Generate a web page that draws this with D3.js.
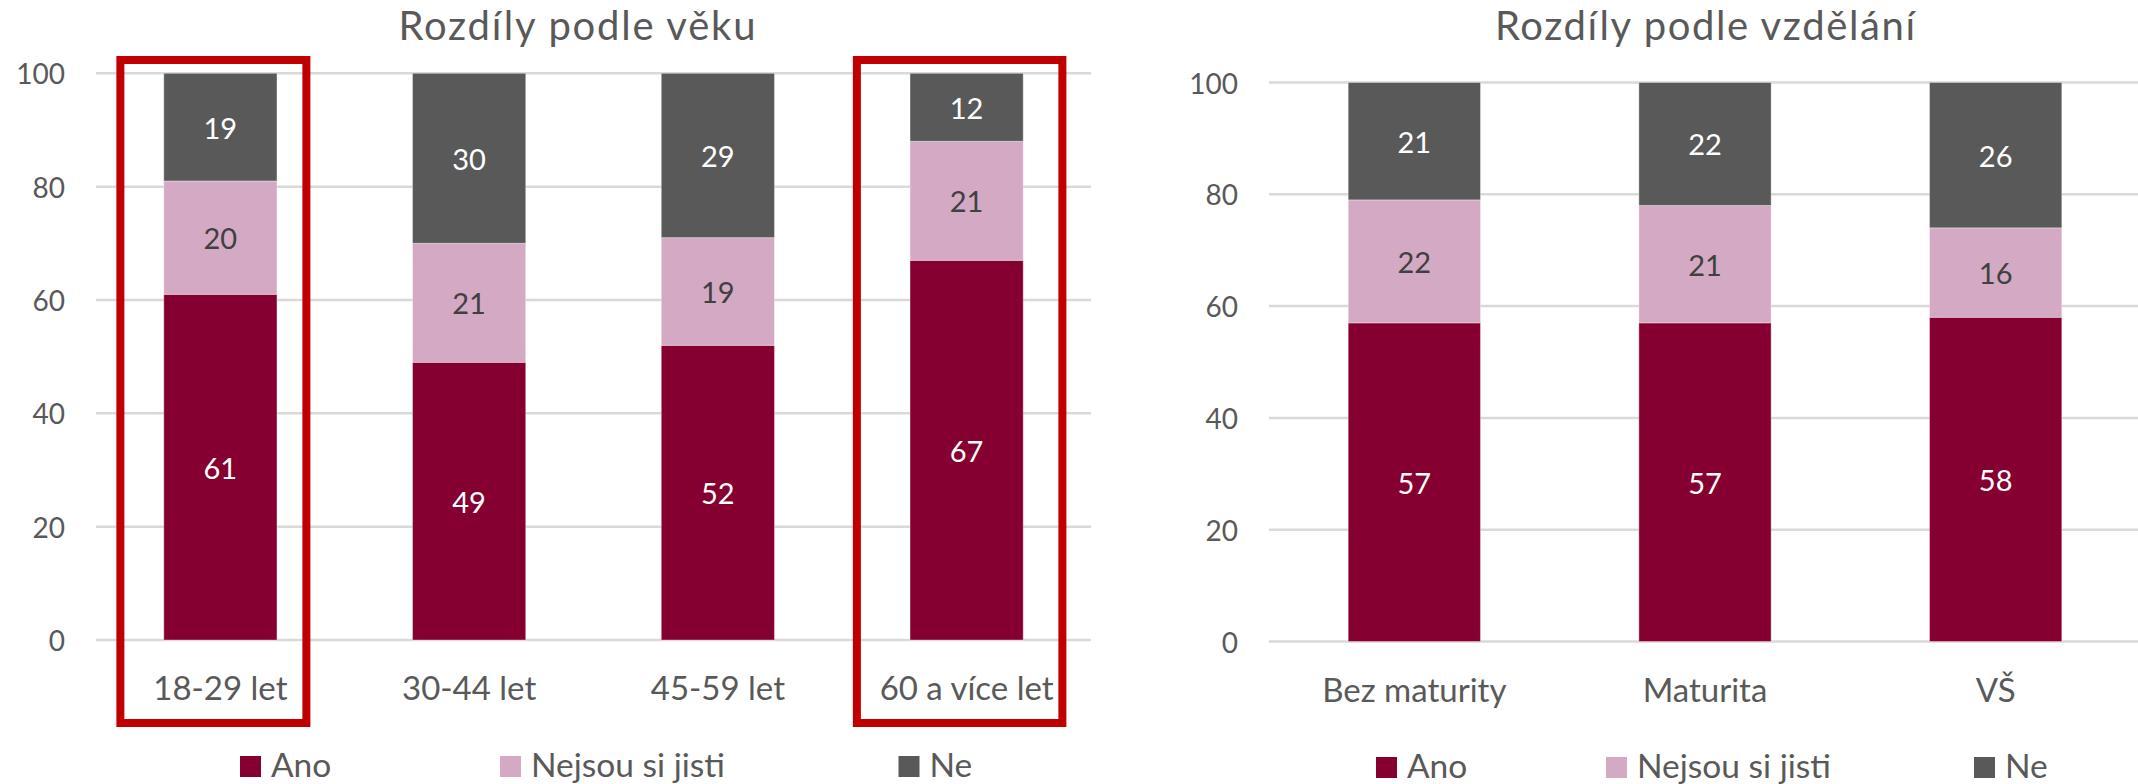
<!DOCTYPE html>
<html>
<head>
<meta charset="utf-8">
<script src="https://cdn.jsdelivr.net/npm/d3@7"></script>
<style>
  html, body { margin: 0; padding: 0; background: #fff; }
  svg { display: block; font-family: Lato, "Open Sans", sans-serif; }
</style>
</head>
<body>
<svg id="chart" width="2138" height="784"></svg>
<script>
// ---------- data ----------
const seriesNames = ["Ano", "Nejsou si jisti", "Ne"];
const seriesColors = ["#850030", "#D4A9C3", "#595959"];
const labelColors = ["#FFFFFF", "#404040", "#FFFFFF"];

const ageTitle = "Rozdíly podle věku";
const ageCategories = ["18-29 let", "30-44 let", "45-59 let", "60 a více let"];
const ageAno = [61, 49, 52, 67];
const ageNejsou = [20, 21, 19, 21];
const ageNe = [19, 30, 29, 12];
const ageHighlighted = ["18-29 let", "60 a více let"];

const eduTitle = "Rozdíly podle vzdělání";
const eduCategories = ["Bez maturity", "Maturita", "VŠ"];
const eduAno = [57, 57, 58];
const eduNejsou = [22, 21, 16];
const eduNe = [21, 22, 26];

const yTicks = [0, 20, 40, 60, 80, 100];

// ---------- drawing ----------
const svg = d3.select("#chart");
const textColor = "#595959";

function drawPanel(cfg) {
  const g = svg.append("g");
  const x = d3.scaleBand().domain(cfg.categories).range([cfg.left, cfg.right]).padding(0);
  const y = d3.scaleLinear().domain([0, 100]).range([cfg.y0, cfg.y100]);
  const bw = x.bandwidth() * cfg.barFrac;

  // gridlines
  g.append("g").selectAll("line").data(yTicks).join("line")
    .attr("x1", cfg.left).attr("x2", cfg.gridRight)
    .attr("y1", d => y(d)).attr("y2", d => y(d))
    .attr("stroke", "#D9D9D9").attr("stroke-width", 2.5);

  // y tick labels
  g.append("g").selectAll("text").data(yTicks).join("text")
    .attr("x", cfg.left - 31).attr("y", d => y(d))
    .attr("text-anchor", "end").attr("dominant-baseline", "central")
    .attr("font-size", 28).attr("fill", textColor)
    .text(d => d);

  // stacked data
  const rows = cfg.categories.map((c, i) => ({ cat: c, Ano: cfg.ano[i], Nejsou: cfg.nejsou[i], Ne: cfg.ne[i] }));
  const keys = ["Ano", "Nejsou", "Ne"];
  const stacked = d3.stack().keys(keys)(rows);

  stacked.forEach((layer, li) => {
    const lg = g.append("g");
    lg.selectAll("rect").data(layer).join("rect")
      .attr("x", d => x(d.data.cat) + (x.bandwidth() - bw) / 2)
      .attr("width", bw)
      .attr("y", d => y(d[1]))
      .attr("height", d => y(d[0]) - y(d[1]))
      .attr("fill", seriesColors[li])
      .attr("stroke", "#ffffff").attr("stroke-opacity", 0.35).attr("stroke-width", 1);
    lg.selectAll("text").data(layer).join("text")
      .attr("x", d => x(d.data.cat) + x.bandwidth() / 2)
      .attr("y", d => (y(d[0]) + y(d[1])) / 2)
      .attr("text-anchor", "middle").attr("dominant-baseline", "central")
      .attr("font-size", 29).attr("fill", labelColors[li])
      .text(d => d[1] - d[0]);
  });

  // category labels
  g.append("g").selectAll("text").data(cfg.categories).join("text")
    .attr("x", d => x(d) + x.bandwidth() / 2)
    .attr("y", cfg.catBaseline)
    .attr("text-anchor", "middle")
    .attr("font-size", 33).attr("fill", textColor)
    .text(d => d);

  // title
  g.append("text")
    .attr("x", cfg.titleX).attr("y", 40)
    .attr("text-anchor", "middle")
    .attr("font-size", 40).attr("fill", textColor)
    .attr("textLength", cfg.titleWidth).attr("lengthAdjust", "spacing")
    .text(cfg.title);

  // legend
  const leg = g.append("g");
  seriesNames.forEach((name, i) => {
    const lx = cfg.legendX[i];
    leg.append("rect").attr("x", lx).attr("y", cfg.legendBase - 21)
      .attr("width", 21).attr("height", 21).attr("fill", seriesColors[i]);
    leg.append("text").attr("x", lx + 31).attr("y", cfg.legendBase)
      .attr("font-size", 33.5).attr("fill", textColor).text(name);
  });

  // highlight boxes
  if (cfg.highlight) {
    cfg.highlight.forEach((h, i) => {
      const cx = x(h) + x.bandwidth() / 2 + cfg.boxOffset;
      const w = cfg.boxWidths[i];
      g.append("rect")
        .attr("x", cx - w / 2).attr("y", 60)
        .attr("width", w).attr("height", 663)
        .attr("fill", "none").attr("stroke", "#C00000").attr("stroke-width", 8);
    });
  }
}

drawPanel({
  title: ageTitle, titleX: 577, titleWidth: 357,
  categories: ageCategories, ano: ageAno, nejsou: ageNejsou, ne: ageNe,
  left: 96, right: 1091, gridRight: 1091, y0: 640, y100: 73.3, barFrac: 0.455,
  catBaseline: 700, legendBase: 777, legendX: [240, 500, 898.5],
  highlight: ageHighlighted, boxWidths: [186, 205.5], boxOffset: -7
});

drawPanel({
  title: eduTitle, titleX: 1705, titleWidth: 420,
  categories: eduCategories, ano: eduAno, nejsou: eduNejsou, ne: eduNe,
  left: 1269, right: 2141, gridRight: 2138, y0: 641.5, y100: 82.5, barFrac: 0.455,
  catBaseline: 702, legendBase: 778, legendX: [1376, 1606, 1974]
});
</script>
</body>
</html>
